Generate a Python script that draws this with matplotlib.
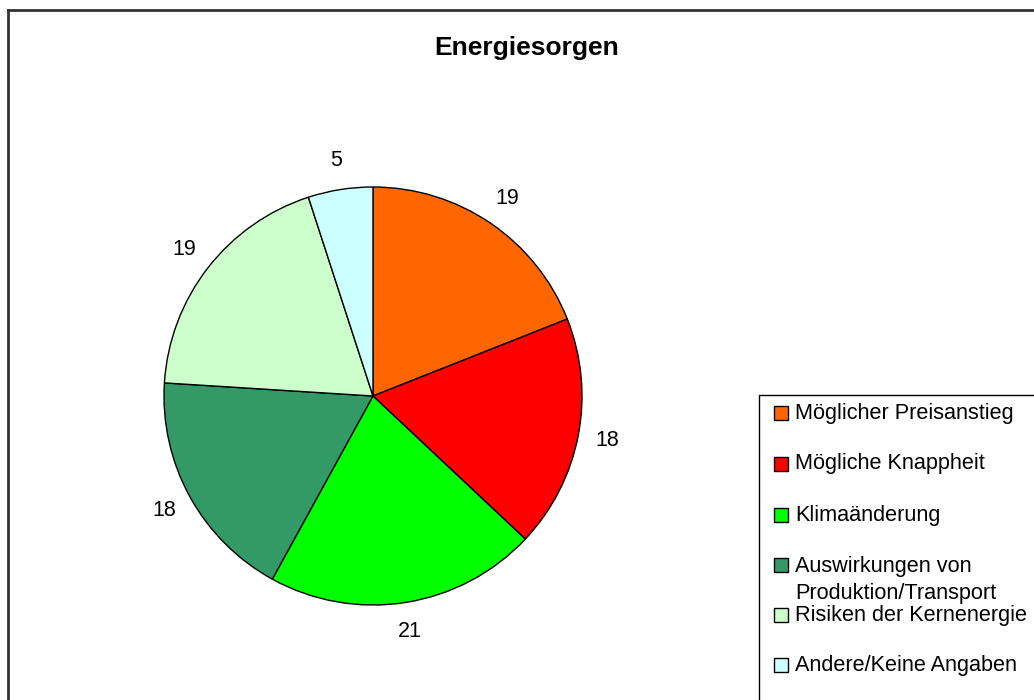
import matplotlib.pyplot as plt
from matplotlib.lines import Line2D
from matplotlib.patches import Rectangle

plt.rcParams['font.family'] = ['Liberation Sans', 'DejaVu Sans']

categories = [
    'Möglicher Preisanstieg',
    'Mögliche Knappheit',
    'Klimaänderung',
    'Auswirkungen von\nProduktion/Transport',
    'Risiken der Kernenergie',
    'Andere/Keine Angaben',
]
values = [19, 18, 21, 18, 19, 5]
colors = ['#FF6600', '#FF0000', '#00FF00', '#339966', '#CCFFCC', '#CCFFFF']

W, H = 1034, 700
fig = plt.figure(figsize=(W / 100, H / 100), dpi=100)


def px(x, y):
    # pixel position (top-left origin) -> figure fraction
    return x / W, 1 - y / H


# outer chart frame
fig.add_artist(Line2D([8 / W, 1.01], [1 - 10 / H] * 2, transform=fig.transFigure,
                      color='#333333', lw=2))
fig.add_artist(Line2D([8 / W] * 2, [1 - 10 / H, -0.01], transform=fig.transFigure,
                      color='#333333', lw=2))

fig.text(*px(527, 48), 'Energiesorgen', ha='center', va='center',
         fontsize=19, fontweight='bold')

# pie
cx, cy, r = 373, 396, 209
ax = fig.add_axes([(cx - r) / W, 1 - (cy + r) / H, 2 * r / W, 2 * r / H])
ax.pie(values, colors=colors, labels=[str(v) for v in values], startangle=90,
       counterclock=False, labeldistance=1.14,
       wedgeprops=dict(edgecolor='black', linewidth=1),
       textprops=dict(fontsize=15.5, va='center'))
for t in ax.texts:
    t.set_horizontalalignment('center')
ax.set_xlim(-1, 1)
ax.set_ylim(-1, 1)
ax.set_aspect('equal')
ax.axis('off')

# legend box
lx, ly = 759, 395
fig.add_artist(Line2D([lx / W, lx / W, 1.01], [-0.01, 1 - ly / H, 1 - ly / H],
                      transform=fig.transFigure, color='black', lw=1))

rows = [413, 464, 515, 565, 615, 665]
for label, color, y in zip(categories, colors, rows):
    fig.add_artist(Rectangle(px(774, y + 7), 14 / W, 14 / H, transform=fig.transFigure,
                             facecolor=color, edgecolor='black', lw=1))
    if '\n' in label:
        fig.text(*px(795, y - 9), label, ha='left', va='top', fontsize=15.6,
                 linespacing=1.4)
    else:
        fig.text(*px(795, y), label, ha='left', va='center', fontsize=15.6)

fig.savefig('out.png', dpi=100)
